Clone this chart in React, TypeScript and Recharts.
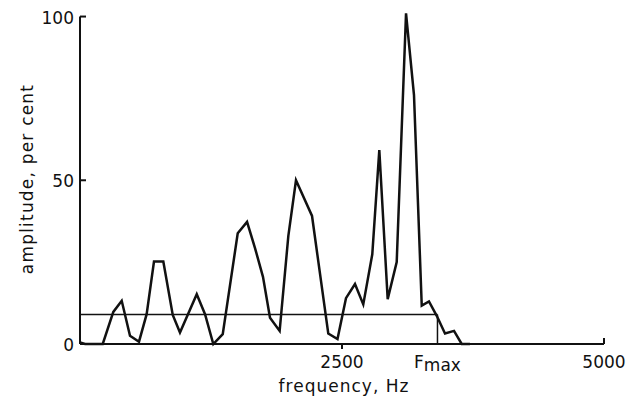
import { LineChart, Line, XAxis, YAxis, ReferenceLine, Label } from 'recharts';

// spectrum (Hz, % amplitude)
const freqs = [
  0, 48, 217, 318, 398, 477, 563, 636, 706, 795, 885, 954, 1114, 1193, 1272, 1362,
  1505, 1594, 1670, 1746, 1813, 1905, 1988, 2061, 2214, 2369, 2457, 2538, 2624, 2703,
  2789, 2856, 2936, 3022, 3111, 3187, 3261, 3330, 3404, 3483, 3569, 3642, 3721,
];
const amplitudes = [
  0.5, 0, 0, 9.8, 13.2, 2.5, 0.7, 9.1, 25.2, 25.2, 8.9, 3.5, 15.2, 9.1, 0, 3,
  33.8, 37.3, 29.3, 20.5, 8, 4, 33, 50, 39.1, 3.2, 1.5, 14, 18.3, 12.1,
  27.4, 59.2, 13.7, 25, 101, 76, 11.7, 13, 8.6, 3.2, 4, 0, 0,
];

const FMAX = 3411;
const THRESHOLD = 9;
const xTicks = [2500, FMAX, 5000];
const yTicks = [0, 50, 100];

const data = freqs.map((f, i) => ({ f, amp: amplitudes[i] }));

const INK = '#111';
const FONT = '"DejaVu Sans", sans-serif';

const YTick = ({ x, y, payload }: any) => (
  <g>
    {payload.value !== 0 && <line x1={x} y1={y} x2={x + 6} y2={y} stroke={INK} strokeWidth={2} />}
    <text x={x - 6} y={y + 7} textAnchor="end" fontSize={17} fontFamily={FONT} fill={INK}>
      {payload.value}
    </text>
  </g>
);

const XTick = ({ x, y, payload }: any) => {
  const v = payload.value;
  return (
    <g>
      {v === 2500 && <line x1={x} y1={y} x2={x} y2={y + 5} stroke={INK} strokeWidth={2} />}
      {v === 5000 && <line x1={x} y1={y} x2={x} y2={y - 6} stroke={INK} strokeWidth={2} />}
      <text x={x} y={y + 24} textAnchor="middle" fontSize={17} fontFamily={FONT} fill={INK}>
        {v === FMAX ? (
          <>
            F<tspan dy={3}>max</tspan>
          </>
        ) : (
          v
        )}
      </text>
    </g>
  );
};

const YLabel = ({ viewBox }: any) => {
  const cx = viewBox.x + 33;
  const cy = viewBox.y + viewBox.height / 2 + 2;
  return (
    <text
      x={cx}
      y={cy}
      transform={`rotate(-90, ${cx}, ${cy})`}
      textAnchor="middle"
      fontSize={17}
      letterSpacing={1.2}
      fontFamily={FONT}
      fill={INK}
    >
      amplitude, per cent
    </text>
  );
};

const XLabel = ({ viewBox }: any) => (
  <text
    x={viewBox.x + viewBox.width / 2 + 2}
    y={viewBox.y + 48}
    textAnchor="middle"
    fontSize={17}
    letterSpacing={1}
    fontFamily={FONT}
    fill={INK}
  >
    frequency, Hz
  </text>
);

export default function App() {
  return (
    <div style={{ position: 'absolute', left: 0, top: 0, background: '#fff' }}>
      <LineChart width={641} height={401} data={data} margin={{ top: 10, right: 37, bottom: 0, left: 0 }}>
        <XAxis
          dataKey="f"
          type="number"
          domain={[0, 5000]}
          ticks={xTicks}
          interval={0}
          tickLine={false}
          tickSize={0}
          tickMargin={0}
          height={57}
          axisLine={{ stroke: INK, strokeWidth: 2 }}
          tick={<XTick />}
        >
          <Label content={<XLabel />} />
        </XAxis>
        <YAxis
          type="number"
          domain={[0, 102]}
          ticks={yTicks}
          interval={0}
          width={80}
          axisLine={false}
          tickLine={false}
          tickSize={0}
          tickMargin={0}
          tick={<YTick />}
        >
          <Label content={<YLabel />} />
        </YAxis>
        <ReferenceLine segment={[{ x: 0, y: 0 }, { x: 0, y: 100 }]} stroke={INK} strokeWidth={2} />
        <ReferenceLine segment={[{ x: 0, y: THRESHOLD }, { x: FMAX, y: THRESHOLD }]} stroke={INK} strokeWidth={1.5} />
        <ReferenceLine segment={[{ x: FMAX, y: 0 }, { x: FMAX, y: THRESHOLD }]} stroke={INK} strokeWidth={1.5} />
        <Line
          type="linear"
          dataKey="amp"
          stroke={INK}
          strokeWidth={2.5}
          dot={false}
          activeDot={false}
          isAnimationActive={false}
        />
      </LineChart>
    </div>
  );
}
